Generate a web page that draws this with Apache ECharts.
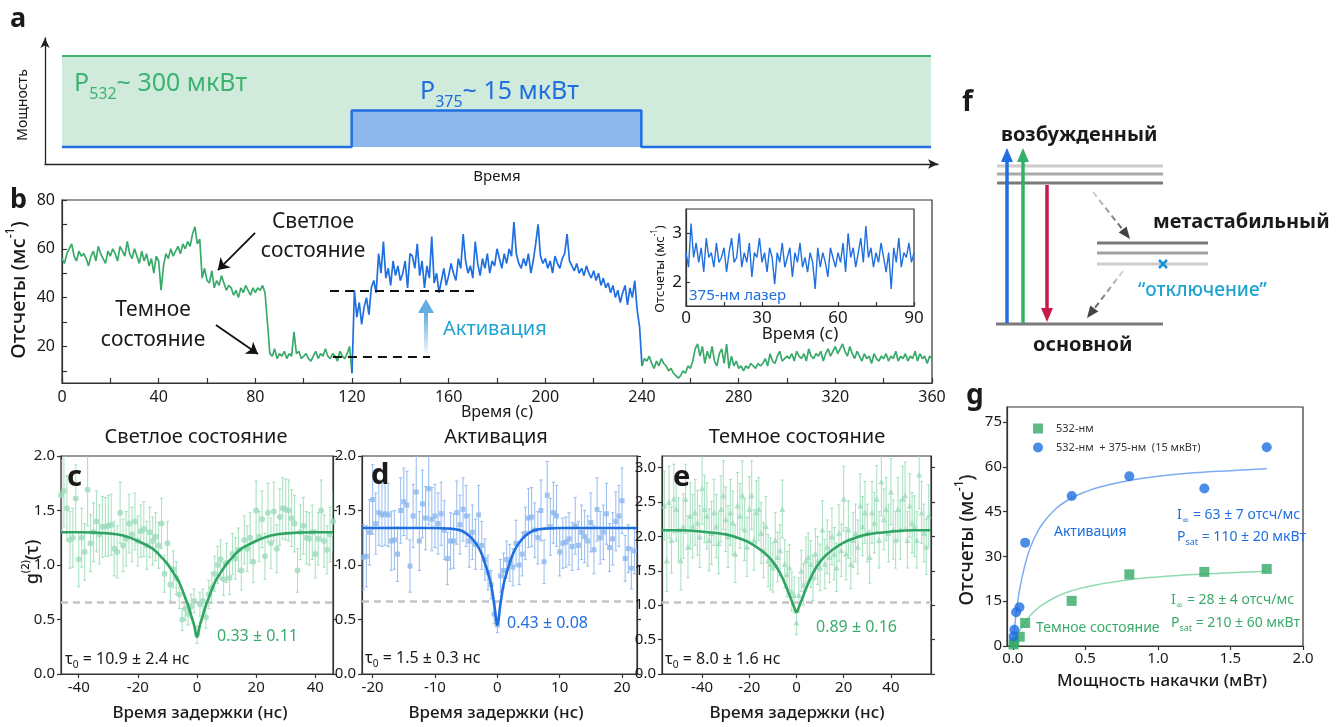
<!DOCTYPE html>
<html>
<head>
<meta charset="utf-8">
<script src="https://cdn.jsdelivr.net/npm/echarts@6/dist/echarts.min.js"></script>
<style>
html, body { margin: 0; padding: 0; background: #fff; }
#main { width: 1343px; height: 727px; }
</style>
</head>
<body>
<div id="main"></div>
<script>
// ---------- общие стили ----------
var FONT = '"Noto Sans", "DejaVu Sans", sans-serif';
var INK = "#1a1a1a";
var GREEN = "#3aaa6b";
var BLUE = "#1f6fe0";
var CYAN = "#1fa3d3";

// ---------- панель a: мощность лазеров ----------
var aTime532 = [0, 360];
var aPower532 = [1, 1];
var aTime375 = [0, 120, 120, 240, 240, 360];
var aPower375 = [0, 0, 0.4, 0.4, 0, 0];

// ---------- панель b: отсчеты во времени, шаг 1 с ----------
var bStep = 1;
var bGreenA = [ // 0..120 с
    56, 54, 58, 60, 62, 57, 55, 59, 57, 58, 56,
    53, 57, 59, 55, 61, 58, 56, 54, 59, 57,
    60, 58, 55, 61, 59, 57, 63, 58, 56, 60,
    57, 54, 59, 55, 58, 53, 56, 50, 57, 55,
    43, 53, 58, 56, 60, 57, 59, 61, 58, 62,
    60, 63, 61, 66, 69, 62, 64, 48, 52, 47,
    46, 51, 44, 47, 45, 49, 46, 43, 45, 44,
    41, 43, 40, 44, 42, 45, 43, 41, 44, 42,
    44, 43, 45, 42, 30, 17, 16, 19, 15, 17,
    16, 18, 15, 17, 16, 26, 17, 18, 15, 16,
    17, 15, 14, 16, 18, 15, 17, 16, 19, 16,
    15, 17, 16, 14, 18, 16, 15, 17, 20, 9
];
var bBlue = [ // 120..240 с
    9,
    43, 32, 38, 29, 36, 40, 33, 44, 47, 42,
    58, 50, 63, 48, 52, 45, 55, 49, 53, 47,
    50, 55, 44, 58, 57, 52, 62, 49, 55, 44,
    53, 48, 65, 46, 50, 42, 47, 52, 45, 49,
    54, 50, 47, 56, 52, 66, 55, 50, 53, 48,
    63, 54, 49, 56, 52, 58, 50, 55, 53, 60,
    56, 52, 58, 54, 60, 57, 71, 58, 54, 52,
    56, 53, 58, 50, 55, 62, 70, 57, 54, 56,
    52, 55, 50, 57, 54, 52, 56, 58, 66, 55,
    53, 51, 54, 50, 52, 49, 53, 50, 48, 51,
    47, 50, 45, 48, 44, 46, 42, 45, 40, 43,
    38, 42, 45, 37, 44, 40, 47, 35, 28, 12
];
var bGreenB = [ // 240..360 с
    12, 15, 14, 16, 13, 11, 14, 12, 15, 13,
    12, 10, 11, 9, 8, 7, 8, 10, 9, 12,
    11, 14, 19, 21, 16, 20, 13, 18, 15, 20,
    14, 12, 17, 19, 13, 21, 11, 16, 12, 14,
    11, 12, 10, 12, 11, 13, 12, 11, 13, 12,
    13, 15, 12, 17, 14, 13, 16, 18, 14, 15,
    16, 15, 17, 14, 18, 16, 15, 17, 14, 19,
    16, 15, 17, 16, 18, 14, 17, 19, 16, 18,
    20, 17, 19, 21, 18, 16, 20, 17, 15, 18,
    16, 14, 17, 15, 16, 13, 17, 15, 14, 16,
    15, 17, 14, 16, 15, 18, 14, 16, 15, 17,
    14, 16, 15, 18, 14, 17, 15, 16, 13, 16, 15
];
var bTickX = [0, 20, 40, 60, 80, 100, 120, 140, 160, 180, 200, 220, 240, 260, 280, 300, 320, 340, 360];
var bLabelX = [0, 40, 80, 120, 160, 200, 240, 280, 320, 360];
var bTickY = [10, 20, 30, 40, 50, 60, 70, 80];
var bLabelY = [20, 40, 60, 80];

// ---------- вставка: только 375-нм лазер ----------
var inStep = 1;
var inCounts = [
    2.6, 2.3, 3.2, 2.5, 2.8, 2.4, 2.7, 2.2, 2.9, 2.5,
    2.6, 2.3, 2.8, 2.4, 2.5, 2.7, 2.2, 2.6, 2.9, 2.4,
    2.5, 3.0, 2.3, 2.6, 2.4, 2.8, 2.1, 2.6, 2.5, 2.9,
    2.4, 2.6, 2.2, 2.7, 2.5, 1.95, 2.6, 2.4, 2.8, 2.3,
    2.5, 2.7, 2.1, 2.6, 2.4, 2.8, 2.3, 2.5, 2.2, 2.6,
    2.4, 1.85, 2.7, 2.3, 2.6, 2.4, 2.1, 2.7, 2.5, 2.3,
    2.6, 2.4, 2.8, 2.2, 3.0, 2.5, 2.7, 2.3, 2.6, 2.9,
    2.4, 3.15, 2.5, 2.7, 2.3, 2.6, 2.4, 2.8, 2.5, 2.2,
    2.6, 1.85, 2.7, 2.4, 2.9, 2.3, 2.6, 2.5, 2.8, 2.4,
    2.6
];
var inTickX = [0, 15, 30, 45, 60, 75, 90];
var inLabelX = [0, 30, 60, 90];
var inTickY = [2, 3];

// ---------- панель c: g2, светлое состояние ----------
var cDelayStart = -46, cDelayStep = 1;
var cG2 = [
    1.64, 1.68, 1.52, 1.23, 1.25, 1.61, 1.05, 1.25, 1.12, 1.69,
    1.20, 1.30, 1.40, 1.28, 1.35, 1.35, 1.36, 1.37, 1.15, 1.12,
    1.48, 1.18, 1.24, 1.38, 1.28, 1.40, 1.22, 1.31, 1.33, 1.18,
    1.30, 1.22, 1.26, 1.18, 1.38, 0.92, 1.20, 0.82, 0.96, 0.88,
    0.73, 0.50, 0.60, 0.55, 0.62, 0.67, 0.36, 0.64, 0.67, 0.52,
    0.73, 0.79, 0.92, 1.00, 1.05, 0.87, 1.02, 0.88, 1.10, 1.06,
    1.14, 0.95, 1.23, 1.15, 1.25, 1.03, 1.50, 1.26, 1.42, 1.08,
    1.48, 1.20, 1.49, 1.15, 1.44, 1.52, 1.51, 1.50, 1.43, 1.38,
    0.95, 1.30, 1.36, 1.25, 1.24, 1.30, 1.10, 1.24, 1.50, 1.22,
    1.14, 1.28, 1.40
];
var cErr = [
    0.32, 0.33, 0.30, 0.26, 0.27, 0.31, 0.25, 0.27, 0.26, 0.33,
    0.26, 0.27, 0.28, 0.27, 0.28, 0.27, 0.28, 0.28, 0.25, 0.24,
    0.28, 0.24, 0.25, 0.27, 0.25, 0.26, 0.23, 0.24, 0.25, 0.22,
    0.23, 0.22, 0.22, 0.21, 0.23, 0.17, 0.20, 0.15, 0.17, 0.15,
    0.13, 0.10, 0.11, 0.10, 0.11, 0.11, 0.08, 0.11, 0.11, 0.10,
    0.13, 0.14, 0.16, 0.17, 0.18, 0.15, 0.18, 0.15, 0.19, 0.19,
    0.20, 0.18, 0.22, 0.21, 0.23, 0.19, 0.27, 0.23, 0.26, 0.21,
    0.27, 0.23, 0.27, 0.22, 0.26, 0.28, 0.28, 0.28, 0.26, 0.26,
    0.20, 0.25, 0.26, 0.24, 0.24, 0.25, 0.22, 0.24, 0.28, 0.24,
    0.22, 0.25, 0.27
];
var cFitT = [-46, -40, -30, -25, -20, -15, -12, -10, -8, -6, -4, -3, -2, -1, 0, 1, 2, 3, 4, 6, 8, 10, 12, 15, 20, 25, 30, 40, 46];
var cFitG = [1.30, 1.30, 1.29, 1.27, 1.22, 1.15, 1.07, 1.01, 0.93, 0.84, 0.70, 0.63, 0.54, 0.45, 0.34, 0.45, 0.54, 0.63, 0.70, 0.84, 0.93, 1.01, 1.07, 1.15, 1.22, 1.27, 1.29, 1.30, 1.30];
var cLevel = 0.66;
var cTickX = [-40, -20, 0, 20, 40];

// ---------- панель d: g2, активация ----------
var dDelayStart = -21.5, dDelayStep = 0.5;
var dG2 = [
    1.07, 1.08, 1.30, 1.60, 1.38, 1.48, 1.46, 1.47, 1.46, 1.22,
    1.23, 1.10, 1.50, 1.58, 1.55, 0.99, 1.45, 1.67, 1.22, 1.56,
    1.43, 1.70, 1.42, 1.45, 1.38, 1.47, 1.32, 1.06, 1.22, 1.22,
    1.48, 1.37, 1.51, 1.45, 1.22, 1.30, 1.19, 1.46, 1.18, 1.05,
    0.93, 0.82, 0.55, 0.45, 0.90, 0.95, 1.05, 1.02, 0.98, 1.20,
    1.00, 1.10, 1.29, 1.43, 1.44, 1.32, 1.25, 1.50, 1.03, 1.64,
    1.35, 1.48, 1.45, 1.12, 1.20, 1.21, 1.24, 1.17, 1.36, 1.18,
    1.30, 1.26, 1.22, 1.39, 1.14, 1.51, 1.25, 1.30, 1.47, 1.16,
    1.24, 1.40, 1.45, 1.59, 1.06, 1.15, 0.97, 1.13
];
var dErr = [
    0.30, 0.28, 0.30, 0.32, 0.28, 0.30, 0.29, 0.29, 0.29, 0.27,
    0.27, 0.25, 0.30, 0.31, 0.31, 0.24, 0.29, 0.33, 0.27, 0.31,
    0.29, 0.33, 0.29, 0.29, 0.28, 0.29, 0.27, 0.24, 0.26, 0.25,
    0.29, 0.27, 0.29, 0.28, 0.24, 0.25, 0.23, 0.27, 0.22, 0.19,
    0.16, 0.13, 0.09, 0.07, 0.15, 0.16, 0.17, 0.17, 0.17, 0.21,
    0.18, 0.20, 0.24, 0.27, 0.27, 0.25, 0.24, 0.28, 0.20, 0.31,
    0.26, 0.28, 0.28, 0.22, 0.23, 0.23, 0.24, 0.22, 0.26, 0.22,
    0.25, 0.24, 0.23, 0.27, 0.22, 0.29, 0.24, 0.25, 0.28, 0.22,
    0.24, 0.27, 0.28, 0.30, 0.21, 0.22, 0.19, 0.21
];
var dFitT = [-21.7, -15, -10, -8, -6, -5, -4, -3, -2.5, -2, -1.5, -1, -0.5, 0, 0.5, 1, 1.5, 2, 2.5, 3, 4, 5, 6, 8, 10, 15, 22.4];
var dFitG = [1.34, 1.34, 1.34, 1.335, 1.32, 1.29, 1.24, 1.16, 1.10, 1.02, 0.93, 0.82, 0.64, 0.45, 0.64, 0.82, 0.93, 1.02, 1.10, 1.16, 1.24, 1.29, 1.32, 1.335, 1.34, 1.34, 1.34];
var dLevel = 0.67;
var dTickX = [-20, -10, 0, 10, 20];

// ---------- панель e: g2, темное состояние ----------
var eDelayStart = -56, eDelayStep = 1;
var eG2 = [
    2.45, 1.65, 2.50, 1.95, 2.55, 2.40, 2.10, 1.65, 2.15, 2.55,
    1.85, 2.30, 2.15, 2.35, 2.20, 2.00, 2.70, 2.40, 2.30, 1.95,
    2.05, 2.35, 2.15, 1.90, 2.40, 2.60, 2.25, 2.00, 2.35, 2.20,
    1.75, 2.45, 2.30, 2.60, 2.10, 1.85, 2.40, 2.60, 1.95, 2.35,
    2.40, 2.05, 1.80, 2.15, 1.65, 1.60, 1.55, 1.95, 1.70, 1.80,
    2.40, 1.60, 1.45, 1.55, 1.20, 1.15, 0.75, 1.15, 1.50, 1.30,
    1.65, 1.70, 1.60, 1.40, 1.75, 1.65, 1.55, 2.10, 1.60, 1.85,
    1.70, 2.00, 1.75, 1.55, 2.05, 1.80, 2.55, 1.75, 2.10, 1.60,
    1.95, 2.05, 1.85, 2.45, 2.15, 2.35, 2.05, 1.70, 2.35, 2.20,
    2.55, 1.95, 2.80, 2.25, 2.40, 2.05, 2.65, 2.10, 1.95, 2.40,
    2.10, 2.55, 2.60, 1.95, 2.45, 2.20, 2.15, 1.95, 2.90, 2.35,
    2.05, 1.85, 2.30
];
var eErr = [
    0.50, 0.45, 0.52, 0.48, 0.50, 0.47, 0.46, 0.43, 0.47, 0.50,
    0.45, 0.48, 0.46, 0.48, 0.47, 0.45, 0.52, 0.49, 0.48, 0.45,
    0.46, 0.48, 0.46, 0.44, 0.48, 0.50, 0.47, 0.45, 0.48, 0.46,
    0.42, 0.48, 0.47, 0.50, 0.45, 0.43, 0.47, 0.50, 0.44, 0.46,
    0.46, 0.44, 0.40, 0.43, 0.38, 0.38, 0.36, 0.40, 0.36, 0.37,
    0.42, 0.35, 0.33, 0.33, 0.28, 0.26, 0.18, 0.25, 0.30, 0.30,
    0.34, 0.35, 0.34, 0.33, 0.36, 0.35, 0.34, 0.42, 0.36, 0.39,
    0.37, 0.41, 0.38, 0.35, 0.41, 0.38, 0.47, 0.38, 0.42, 0.36,
    0.40, 0.42, 0.39, 0.46, 0.43, 0.45, 0.42, 0.38, 0.45, 0.44,
    0.48, 0.41, 0.50, 0.44, 0.46, 0.42, 0.48, 0.43, 0.41, 0.46,
    0.43, 0.47, 0.48, 0.41, 0.46, 0.44, 0.44, 0.41, 0.50, 0.45,
    0.42, 0.40, 0.45
];
var eFitT = [-57, -50, -40, -30, -25, -20, -15, -12, -10, -8, -6, -4, -3, -2, -1, 0, 1, 2, 3, 4, 6, 8, 10, 12, 15, 20, 25, 30, 40, 50, 57];
var eFitG = [2.09, 2.09, 2.07, 2.03, 1.98, 1.91, 1.80, 1.71, 1.63, 1.53, 1.40, 1.24, 1.15, 1.06, 0.97, 0.90, 0.97, 1.06, 1.15, 1.24, 1.40, 1.53, 1.63, 1.71, 1.80, 1.91, 1.98, 2.03, 2.07, 2.09, 2.09];
var eLevel = 1.05;
var eTickX = [-40, -20, 0, 20, 40];
var eTickY = [0, 0.5, 1, 1.5, 2, 2.5, 3];
var g2TickY = [0, 0.5, 1, 1.5, 2];

// ---------- панель g: насыщение ----------
var gPow532 = [0.005, 0.01, 0.048, 0.085, 0.406, 0.803, 1.32, 1.75];
var gCnt532 = [0.5, 1.2, 3.1, 7.7, 15.1, 24.0, 24.8, 25.8];
var gPow375 = [0.005, 0.011, 0.023, 0.046, 0.085, 0.406, 0.803, 1.32, 1.75];
var gCnt375 = [3.2, 5.4, 11.3, 13.0, 34.6, 50.2, 56.8, 52.7, 66.5];
var gFitP = [0, 0.02, 0.05, 0.1, 0.15, 0.2, 0.3, 0.4, 0.5, 0.6, 0.8, 1.0, 1.25, 1.5, 1.75];
var gFit375 = [0, 9.7, 19.7, 30.0, 36.3, 40.6, 46.1, 49.4, 51.6, 53.2, 55.4, 56.8, 58.0, 58.7, 59.3];
var gFit532P = [0.02, 0.05, 0.1, 0.15, 0.2, 0.3, 0.4, 0.5, 0.6, 0.8, 1.0, 1.25, 1.5, 1.75];
var gFit532 = [2.4, 5.4, 9.0, 11.7, 13.7, 16.5, 18.4, 19.7, 20.7, 22.2, 23.1, 23.9, 24.5, 25.0];
var gTickX = [0, 0.5, 1, 1.5, 2];
var gTickY = [0, 15, 30, 45, 60, 75];

// ---------- помощники ----------
function zip(xs, ys) {
    return xs.map(function(x, i) { return [x, ys[i]]; });
}
function steps(start, step, ys, es) {
    return ys.map(function(v, i) {
        return es ? [start + i * step, v, es[i]] : [start + i * step, v];
    });
}
function axis(grid, min, max, o) {
    o = o || {};
    return {
        type: "value", gridIndex: grid, min: min, max: max,
        position: o.position,
        axisLine: { show: true, onZero: false, lineStyle: { color: "#333", width: 1.2 } },
        axisTick: { show: !!o.ticks, inside: !!o.inside, length: o.tickLen || 4,
            customValues: o.ticks, lineStyle: { color: "#333", width: 1.2 } },
        axisLabel: { show: !!o.labels, customValues: o.labels, fontSize: o.fs || 15,
            color: INK, fontFamily: FONT, margin: o.margin || 6, formatter: o.fmt },
        splitLine: { show: false }
    };
}
function fix1(v) { return v.toFixed(1); }

function errBars(idx, data, color) {
    return {
        type: "custom", xAxisIndex: idx, yAxisIndex: idx, data: data, clip: true, silent: true, z: 1,
        encode: { x: 0, y: 1 },
        renderItem: function(params, api) {
            var x = api.value(0), y = api.value(1), e = api.value(2);
            var p1 = api.coord([x, y + e]), p2 = api.coord([x, y - e]);
            var st = { stroke: color, lineWidth: 1.1 };
            return { type: "group", children: [
                { type: "line", shape: { x1: p1[0], y1: p1[1], x2: p2[0], y2: p2[1] }, style: st },
                { type: "line", shape: { x1: p1[0] - 1.6, y1: p1[1], x2: p1[0] + 1.6, y2: p1[1] }, style: st },
                { type: "line", shape: { x1: p2[0] - 1.6, y1: p2[1], x2: p2[0] + 1.6, y2: p2[1] }, style: st }
            ] };
        }
    };
}
function fitLine(idx, xs, ys, color, level) {
    return {
        type: "line", xAxisIndex: idx, yAxisIndex: idx, data: zip(xs, ys), symbol: "none",
        smooth: 0.35, lineStyle: { color: color, width: 2.6 }, z: 5, silent: true,
        markLine: { silent: true, symbol: "none", label: { show: false },
            lineStyle: { color: "#c4c4c4", type: [7, 5], width: 2.5 },
            data: [{ yAxis: level }] }
    };
}

// текст c под/надстрочными индексами
function rich(fs, color, weight) {
    return {
        n: { fontSize: fs, lineHeight: Math.round(fs * 1.45), fill: color, fontFamily: FONT, fontWeight: weight },
        s: { fontSize: Math.round(fs * 0.62), lineHeight: Math.round(fs * 0.62), verticalAlign: "bottom", fill: color, fontFamily: FONT, fontWeight: weight },
        u: { fontSize: Math.round(fs * 0.62), lineHeight: Math.round(fs * 0.62), verticalAlign: "top", fill: color, fontFamily: FONT, fontWeight: weight }
    };
}
function T(x, y, text, o) {
    o = o || {};
    var fs = o.fs || 16, color = o.color || INK;
    var w = o.bold ? "bold" : (o.weight || "normal");
    return {
        type: "text", x: x, y: y, rotation: o.rot || 0, silent: true, z: 100,
        style: {
            text: text, fontFamily: FONT, fontSize: fs, fontWeight: w,
            fill: color, align: o.align || "left", verticalAlign: "middle",
            rich: o.rich ? rich(fs, color, w) : undefined
        }
    };
}
function L(x1, y1, x2, y2, color, w, dash) {
    return { type: "line", silent: true, z: 100, shape: { x1: x1, y1: y1, x2: x2, y2: y2 },
        style: { stroke: color, lineWidth: w, lineDash: dash } };
}
function P(points, color) {
    return { type: "polygon", silent: true, z: 100, shape: { points: points }, style: { fill: color } };
}

var R90 = Math.PI / 2;
var MID = 500;
var graphics = [
    // подписи панелей
    T(10, 19, "a", { fs: 27, bold: true }),
    T(10, 200, "b", { fs: 27, bold: true }),
    T(67, 478, "c", { fs: 29, bold: true }),
    T(371, 476, "d", { fs: 29, bold: true }),
    T(673, 478, "e", { fs: 29, bold: true }),
    T(962, 103, "f", { fs: 28, bold: true }),
    T(966, 396, "g", { fs: 28, bold: true }),

    // панель a
    T(74, 84, "{n|P}{s|532}{n|~ 300 мкВт}", { fs: 25, color: "#3cb371", rich: true }),
    T(420, 92, "{n|P}{s|375}{n|~ 15 мкВт}", { fs: 25, color: BLUE, rich: true }),
    T(23, 105, "Мощность", { fs: 14, rot: R90, align: "center" }),
    T(497, 177, "Время", { fs: 15, align: "center" }),

    // панель b
    T(19, 290, "{n|Отсчеты (мс}{u|-1}{n|)}", { fs: 20, rot: R90, align: "center", rich: true, weight: MID }),
    T(497, 412, "Время (с)", { fs: 16, align: "center" }),
    T(313, 222, "Светлое", { fs: 21, align: "center" }),
    T(313, 251, "состояние", { fs: 21, align: "center" }),
    T(153, 310, "Темное", { fs: 21, align: "center" }),
    T(153, 340, "состояние", { fs: 21, align: "center" }),
    T(443, 329, "Активация", { fs: 20, color: CYAN }),
    { type: "rect", silent: true, z: 90, shape: { x: 424, y: 311, width: 4, height: 42 },
        style: { fill: { type: "linear", x: 0, y: 0, x2: 0, y2: 1,
            colorStops: [{ offset: 0, color: "#5aa8e0" }, { offset: 1, color: "#eef7fc" }] } } },
    P([[418, 313], [434, 313], [426, 299]], "#62aee2"),
    // вставка
    T(660, 269, "{n|Отсчеты (мс}{u|-1}{n|)}", { fs: 13, rot: R90, align: "center", rich: true }),
    T(800, 334, "Время (с)", { fs: 17, align: "center" }),
    T(689, 296, "375-нм лазер", { fs: 15, color: BLUE }),

    // панели c, d, e
    T(196, 437, "Светлое состояние", { fs: 20, align: "center" }),
    T(496, 437, "Активация", { fs: 20, align: "center" }),
    T(797, 437, "Темное состояние", { fs: 20, align: "center" }),
    T(33, 562, "{n|g}{u|(2)}{n|(τ)}", { fs: 18, rot: R90, align: "center", rich: true, weight: MID }),
    T(200, 713, "Время задержки (нс)", { fs: 17, align: "center", weight: MID }),
    T(496, 713, "Время задержки (нс)", { fs: 17, align: "center", weight: MID }),
    T(797, 713, "Время задержки (нс)", { fs: 17, align: "center", weight: MID }),
    T(65, 659, "{n|τ}{s|0}{n| = 10.9 ± 2.4 нс}", { fs: 16, rich: true }),
    T(365, 658, "{n|τ}{s|0}{n| = 1.5 ± 0.3 нс}", { fs: 16, rich: true }),
    T(665, 659, "{n|τ}{s|0}{n| = 8.0 ± 1.6 нс}", { fs: 16, rich: true }),
    T(217, 636, "0.33 ± 0.11", { fs: 16, color: GREEN }),
    T(507, 623, "0.43 ± 0.08", { fs: 16, color: BLUE }),
    T(816, 627, "0.89 ± 0.16", { fs: 16, color: GREEN }),

    // панель f: схема уровней
    L(997, 166, 1163, 166, "#cccccc", 3),
    L(997, 174, 1163, 174, "#a9a9a9", 3),
    L(997, 183, 1163, 183, "#7a7a7a", 3),
    L(996, 324, 1163, 324, "#7a7a7a", 3),
    L(1097, 243, 1208, 243, "#7a7a7a", 3),
    L(1097, 253, 1208, 253, "#a0a0a0", 3),
    L(1097, 264, 1208, 264, "#cccccc", 3),
    L(1007, 323, 1007, 160, BLUE, 3.5),
    P([[1001, 162], [1013, 162], [1007, 148]], BLUE),
    L(1023, 323, 1023, 160, "#33b06a", 3.5),
    P([[1017, 162], [1029, 162], [1023, 148]], "#33b06a"),
    L(1047, 185, 1047, 310, "#c8194b", 3.5),
    P([[1041, 308], [1053, 308], [1047, 322]], "#c8194b"),
    { type: "line", silent: true, z: 100, shape: { x1: 1093, y1: 192, x2: 1123, y2: 230 },
        style: { lineWidth: 2, lineDash: [6, 4], stroke: { type: "linear", x: 0, y: 0, x2: 1, y2: 1,
            colorStops: [{ offset: 0, color: "#dddddd" }, { offset: 1, color: "#555555" }] } } },
    P([[1118.7, 232.6], [1126.5, 226.4], [1130, 239]], "#444"),
    { type: "line", silent: true, z: 100, shape: { x1: 1123, y1: 271, x2: 1094, y2: 309 },
        style: { lineWidth: 2, lineDash: [6, 4], stroke: { type: "linear", x: 1, y: 0, x2: 0, y2: 1,
            colorStops: [{ offset: 0, color: "#dddddd" }, { offset: 1, color: "#555555" }] } } },
    P([[1098.3, 311.4], [1090.3, 305.4], [1087, 318]], "#444"),
    L(1159, 260, 1167, 268, "#1a8fd8", 2.5),
    L(1167, 260, 1159, 268, "#1a8fd8", 2.5),
    T(1001, 135, "возбужденный", { fs: 20, bold: true }),
    T(1153, 222, "метастабильный", { fs: 20, bold: true }),
    T(1138, 291, "“отключение”", { fs: 19, color: CYAN, weight: MID }),
    T(1033, 345, "основной", { fs: 20, bold: true }),

    // панель g
    T(968, 540, "{n|Отсчеты (мс}{u|-1}{n|)}", { fs: 19, rot: R90, align: "center", rich: true, weight: MID }),
    T(1162, 681, "Мощность накачки (мВт)", { fs: 17, align: "center", weight: MID }),
    T(1054, 532, "Активация", { fs: 14, color: BLUE }),
    T(1177, 515, "{n|I}{s|∞}{n| = 63 ± 7 отсч/мс}", { fs: 14, color: BLUE, rich: true }),
    T(1177, 537, "{n|P}{s|sat}{n| = 110 ± 20 мкВт}", { fs: 14, color: BLUE, rich: true }),
    T(1036, 628, "Темное состояние", { fs: 14, color: GREEN }),
    T(1171, 600, "{n|I}{s|∞}{n| = 28 ± 4 отсч/мс}", { fs: 14, color: GREEN, rich: true }),
    T(1171, 623, "{n|P}{s|sat}{n| = 210 ± 60 мкВт}", { fs: 14, color: GREEN, rich: true })
];

var frame = { show: true, borderColor: "#333", borderWidth: 1.2, backgroundColor: "transparent" };
function grid(l, t, w, h, f) {
    var g = { left: l, top: t, width: w, height: h };
    if (f) { for (var k in frame) g[k] = frame[k]; }
    return g;
}

var arrowAxis = {
    type: "value", min: 0, max: 1,
    axisLine: { show: true, symbol: ["none", "arrow"], symbolSize: [7, 10], lineStyle: { color: "#222", width: 1.3 } },
    axisTick: { show: false }, axisLabel: { show: false }, splitLine: { show: false }
};

var option = {
    animation: false,
    backgroundColor: "#fff",
    textStyle: { fontFamily: FONT },
    grid: [
        grid(45, 38, 893, 126, false),       // a: стрелки осей
        grid(62, 56, 869, 91, false),        // a: полоса
        grid(62, 200, 870, 183, true),       // b
        grid(686, 209, 228, 97, true),       // вставка
        grid(61, 456, 272, 218, true),       // c
        grid(362, 456, 275, 218, true),      // d
        grid(662, 456, 269, 218, true),      // e
        grid(1007, 407, 296, 239, true)      // g
    ],
    legend: {
        data: ["532-нм", "532-нм  + 375-нм  (15 мкВт)"],
        orient: "vertical", left: 1028, top: 418, itemWidth: 10, itemHeight: 10, itemGap: 8,
        textStyle: { fontSize: 11, color: "#333", fontFamily: FONT, padding: [0, 0, 0, 8] }
    },
    xAxis: [
        Object.assign({ gridIndex: 0 }, arrowAxis),
        { type: "value", gridIndex: 1, min: 0, max: 360, show: false },
        axis(2, 0, 360, { ticks: bTickX, labels: bLabelX, inside: true, fs: 16, tickLen: 5 }),
        axis(3, 0, 90, { ticks: inTickX, labels: inLabelX, inside: true, fs: 17, margin: 4 }),
        axis(4, -46, 46, { ticks: cTickX, labels: cTickX, fs: 15 }),
        axis(5, -21.7, 22.4, { ticks: dTickX, labels: dTickX, fs: 15 }),
        axis(6, -57, 57, { ticks: eTickX, labels: eTickX, fs: 15 }),
        axis(7, -0.04, 2.0, { ticks: gTickX, labels: gTickX, fs: 15, fmt: fix1, margin: 5 })
    ],
    yAxis: [
        Object.assign({ gridIndex: 0 }, arrowAxis),
        { type: "value", gridIndex: 1, min: 0, max: 1, show: false },
        axis(2, 5, 80, { ticks: bTickY, labels: bLabelY, inside: true, fs: 16, tickLen: 5, margin: 7 }),
        axis(3, 1.5, 3.5, { ticks: inTickY, labels: inTickY, inside: true, fs: 17, margin: 4 }),
        axis(4, 0, 2, { ticks: g2TickY, labels: g2TickY, fs: 15, fmt: fix1 }),
        axis(5, 0, 2, { ticks: g2TickY, labels: g2TickY, fs: 15, fmt: fix1 }),
        axis(6, 0, 3.17, { ticks: eTickY, labels: eTickY, fs: 15, fmt: fix1 }),
        axis(7, 0, 80, { ticks: gTickY, labels: gTickY, fs: 15, margin: 5 }),
        axis(4, 0, 2, { ticks: g2TickY, position: "right" }),
        axis(5, 0, 2, { ticks: g2TickY, position: "right" }),
        axis(6, 0, 3.17, { ticks: eTickY, position: "right" })
    ],
    series: [
        // a
        { type: "line", xAxisIndex: 1, yAxisIndex: 1, data: zip(aTime532, aPower532), symbol: "none", clip: false,
            lineStyle: { color: "#3cb371", width: 2 }, areaStyle: { color: "#d0ebdc", opacity: 1 } },
        { type: "line", xAxisIndex: 1, yAxisIndex: 1, data: zip(aTime375, aPower375), symbol: "none", clip: false,
            lineStyle: { color: BLUE, width: 2.5 }, areaStyle: { color: "#8db8ee", opacity: 1 } },
        // b
        { type: "line", xAxisIndex: 2, yAxisIndex: 2, data: steps(0, bStep, bGreenA), symbol: "none",
            lineStyle: { color: GREEN, width: 1.7 },
            markLine: {
                silent: true, symbol: ["none", "arrow"], symbolSize: 11, label: { show: false },
                lineStyle: { color: "#111", width: 1.8, type: "solid" },
                data: [
                    [{ coord: [79.9, 66.5] }, { coord: [64.5, 51.3] }],
                    [{ coord: [63.7, 28.8] }, { coord: [81.1, 16.9] }],
                    [{ coord: [110.9, 42.7], symbol: "none", lineStyle: { type: [9, 6], width: 2.2, color: "#111" } },
                        { coord: [172.1, 42.7], symbol: "none" }],
                    [{ coord: [112.1, 15.7], symbol: "none", lineStyle: { type: [9, 6], width: 2.2, color: "#111" } },
                        { coord: [152.3, 15.7], symbol: "none" }]
                ]
            } },
        { type: "line", xAxisIndex: 2, yAxisIndex: 2, data: steps(120, bStep, bBlue), symbol: "none",
            lineStyle: { color: BLUE, width: 1.7 } },
        { type: "line", xAxisIndex: 2, yAxisIndex: 2, data: steps(240, bStep, bGreenB), symbol: "none",
            lineStyle: { color: GREEN, width: 1.7 } },
        // вставка
        { type: "line", xAxisIndex: 3, yAxisIndex: 3, data: steps(0, inStep, inCounts), symbol: "none",
            lineStyle: { color: BLUE, width: 1.4 } },
        // c
        errBars(4, steps(cDelayStart, cDelayStep, cG2, cErr), "rgba(150,220,180,0.8)"),
        { type: "scatter", xAxisIndex: 4, yAxisIndex: 4, data: steps(cDelayStart, cDelayStep, cG2),
            symbol: "circle", symbolSize: 6, itemStyle: { color: "#9edcbb" }, z: 3 },
        fitLine(4, cFitT, cFitG, "#2fa463", cLevel),
        // d
        errBars(5, steps(dDelayStart, dDelayStep, dG2, dErr), "rgba(140,182,238,0.85)"),
        { type: "scatter", xAxisIndex: 5, yAxisIndex: 5, data: steps(dDelayStart, dDelayStep, dG2),
            symbol: "rect", symbolSize: 5, itemStyle: { color: "#8bb6ee" }, z: 3 },
        fitLine(5, dFitT, dFitG, BLUE, dLevel),
        // e
        errBars(6, steps(eDelayStart, eDelayStep, eG2, eErr), "rgba(150,220,180,0.8)"),
        { type: "scatter", xAxisIndex: 6, yAxisIndex: 6, data: steps(eDelayStart, eDelayStep, eG2),
            symbol: "triangle", symbolSize: 6, itemStyle: { color: "#9edcbb" }, z: 3 },
        fitLine(6, eFitT, eFitG, "#2fa463", eLevel),
        // g
        { type: "line", xAxisIndex: 7, yAxisIndex: 7, data: zip(gFitP, gFit375), symbol: "none", smooth: 0.4,
            lineStyle: { color: "#7eacf0", width: 1.5 }, silent: true },
        { type: "line", xAxisIndex: 7, yAxisIndex: 7, data: zip(gFit532P, gFit532), symbol: "none", smooth: 0.4,
            lineStyle: { color: "#8fdab0", width: 1.5 }, silent: true },
        { name: "532-нм", type: "scatter", xAxisIndex: 7, yAxisIndex: 7, data: zip(gPow532, gCnt532),
            symbol: "rect", symbolSize: 10, itemStyle: { color: "#33aa66" }, clip: false, z: 4 },
        { name: "532-нм  + 375-нм  (15 мкВт)", type: "scatter", xAxisIndex: 7, yAxisIndex: 7,
            data: zip(gPow375, gCnt375), symbol: "circle", symbolSize: 10, itemStyle: { color: BLUE }, clip: false, z: 4 }
    ],
    graphic: graphics
};

var myChart = echarts.init(document.getElementById("main"));
myChart.setOption(option);
window.addEventListener("resize", function() {
    myChart.resize();
});
</script>
</body>
</html>
